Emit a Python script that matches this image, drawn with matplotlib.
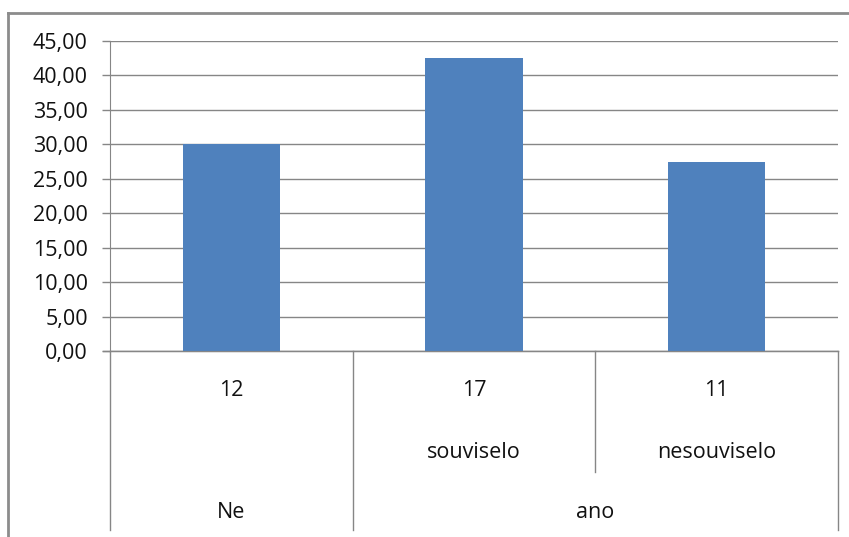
import matplotlib
matplotlib.use('Agg')
import matplotlib.pyplot as plt
from matplotlib.lines import Line2D

# data
counts = ['12', '17', '11']
groups = ['', 'souviselo', 'nesouviselo']
answers = ['Ne', 'ano']
answer_span = [1, 2]   # how many bars each top-level label covers
percent = [30.00, 42.50, 27.50]
yticks = [0, 5, 10, 15, 20, 25, 30, 35, 40, 45]

W, H = 849, 537
plt.rcParams['font.family'] = ['Open Sans', 'DejaVu Sans']
fs = 15.5
tc = '#111111'

fig = plt.figure(figsize=(W / 100, H / 100), dpi=100)


def fx(px):
    return px / W


def fy(py):
    return 1 - py / H


x0, x1, y0, y1 = 110, 838, 351, 41
ax = fig.add_axes([fx(x0), fy(y0), fx(x1) - fx(x0), fy(y1) - fy(y0)])

xs = list(range(len(percent)))
ax.bar(xs, percent, width=0.4, color='#4F81BD', zorder=3)
ax.set_xlim(-0.5, len(percent) - 0.5)
ax.set_ylim(0, 45)
ax.set_yticks(yticks)
ax.yaxis.set_major_formatter(plt.FuncFormatter(lambda v, p: ('%.2f' % v).replace('.', ',')))
ax.tick_params(axis='y', length=6, width=1, color='#868686', pad=10, labelsize=fs, labelcolor=tc)
ax.tick_params(axis='x', length=0, labelbottom=False)
ax.grid(axis='y', color='#868686', linewidth=1, zorder=0)
for s in ['top', 'right']:
    ax.spines[s].set_visible(False)
ax.spines['left'].set_color('#868686')
ax.spines['bottom'].set_color('#868686')
ax.spines['bottom'].set_zorder(4)

# multi-level category axis below the plot
gc = '#868686'


def ay(py):
    return (y0 - py) / (y0 - y1)


tr = ax.get_xaxis_transform()
ax.plot([-0.5 - 0.03, 2.5], [0, 0], transform=tr, color=gc, lw=1, clip_on=False)
ax.plot([-0.5, -0.5], [0, ay(530)], transform=tr, color=gc, lw=1, clip_on=False)
ax.plot([2.5, 2.5], [0, ay(530)], transform=tr, color=gc, lw=1, clip_on=False)
ax.plot([0.5, 0.5], [0, ay(530)], transform=tr, color=gc, lw=1, clip_on=False)
ax.plot([1.5, 1.5], [0, ay(472)], transform=tr, color=gc, lw=1, clip_on=False)

for x, c, g in zip(xs, counts, groups):
    ax.text(x, ay(391), c, transform=tr, ha='center', va='center', fontsize=fs, color=tc)
    ax.text(x, ay(452), g, transform=tr, ha='center', va='center', fontsize=fs, color=tc)

start = 0
for a, n in zip(answers, answer_span):
    mid = start + (n - 1) / 2
    ax.text(mid, ay(512), a, transform=tr, ha='center', va='center', fontsize=fs, color=tc)
    start += n

# outer chart frame (cropped at right and bottom)
fig.add_artist(Line2D([fx(8), fx(8)], [fy(13), 0], color='#8c8c8c', lw=2))
fig.add_artist(Line2D([fx(8), 1], [fy(13), fy(13)], color='#8c8c8c', lw=2))

fig.savefig('out.png', dpi=100)
